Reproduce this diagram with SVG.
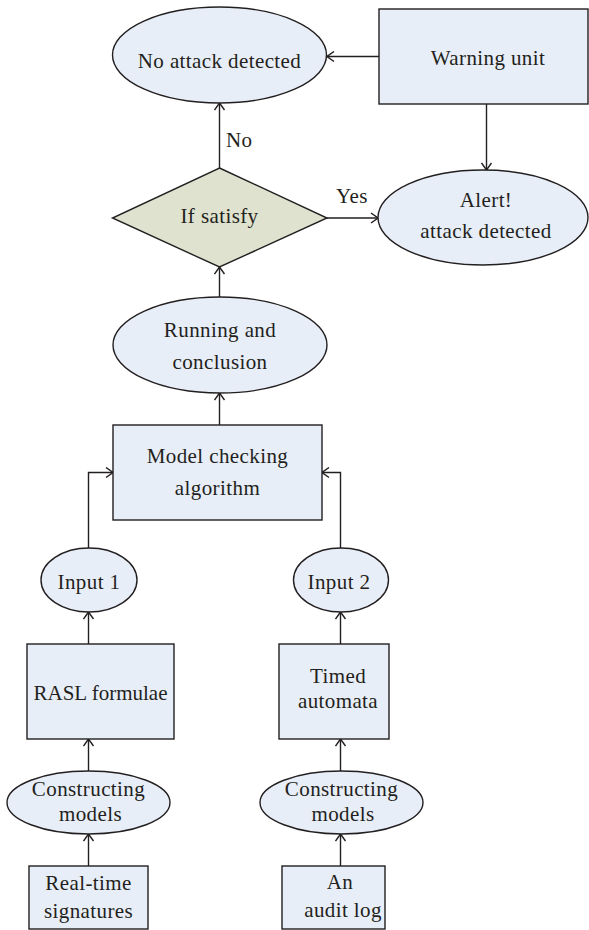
<svg xmlns="http://www.w3.org/2000/svg" width="589" height="930" viewBox="0 0 589 930">
<style>
.n{fill:#e8eef7;stroke:#231f20;stroke-width:1.4}
.d{fill:#dfe2cf;stroke:#231f20;stroke-width:1.4}
.c{fill:none;stroke:#231f20;stroke-width:1.4;marker-end:url(#a)}
text{font-family:"Liberation Serif","Times New Roman",serif;font-size:21px;letter-spacing:0.4px;fill:#231f20;text-anchor:middle}
.l{text-anchor:start}
</style>
<defs>
<marker id="a" viewBox="0 0 12 12" refX="11" refY="6" markerWidth="12" markerHeight="12" markerUnits="userSpaceOnUse" orient="auto">
<path d="M4,1 L11,6 L4,11" fill="none" stroke="#231f20" stroke-width="1.4"/>
</marker>
</defs>
<rect width="589" height="930" fill="#fff"/>
<g id="connectors">
<path class="c" d="M379,56.5 H327"/>
<path class="c" d="M486.5,104 V170"/>
<path class="c" d="M219.5,168 V103"/>
<path class="c" d="M327,218 H378"/>
<path class="c" d="M219.5,297 V267"/>
<path class="c" d="M219.5,425 V393"/>
<path class="c" d="M88.5,548 V472.5 H113"/>
<path class="c" d="M340.5,548 V472.5 H322"/>
<path class="c" d="M88.5,644 V612"/>
<path class="c" d="M340.5,644 V612"/>
<path class="c" d="M88.5,771 V739"/>
<path class="c" d="M340.5,771 V739"/>
<path class="c" d="M88.5,866 V834"/>
<path class="c" d="M340.5,866 V834"/>
<text class="l" x="226" y="147">No</text>
<text class="l" x="336" y="203">Yes</text>
</g>
<g id="no-attack"><ellipse class="n" cx="219.5" cy="55" rx="107" ry="48"/><text x="219.5" y="68">No attack detected</text></g>
<g id="warning"><rect class="n" x="379" y="9" width="209" height="95"/><text x="488" y="65">Warning unit</text></g>
<g id="if-satisfy"><polygon class="d" points="219.5,168 327,218 219.5,267 112.5,218"/><text x="219.5" y="223">If satisfy</text></g>
<g id="alert"><ellipse class="n" cx="483" cy="217.5" rx="105" ry="47.5"/><text x="486" y="207">Alert!</text><text x="486" y="238">attack detected</text></g>
<g id="running"><ellipse class="n" cx="220" cy="345" rx="107" ry="48"/><text x="220" y="337">Running and</text><text x="220" y="369">conclusion</text></g>
<g id="model-checking"><rect class="n" x="113" y="425" width="209" height="95"/><text x="217.5" y="463">Model checking</text><text x="217.5" y="495">algorithm</text></g>
<g id="input1"><ellipse class="n" cx="89" cy="580" rx="48" ry="32"/><text x="89" y="589">Input 1</text></g>
<g id="input2"><ellipse class="n" cx="341" cy="580" rx="47.5" ry="32"/><text x="339" y="589">Input 2</text></g>
<g id="rasl"><rect class="n" x="27" y="644" width="147" height="95"/><text x="100.5" y="700" style="letter-spacing:0">RASL formulae</text></g>
<g id="timed"><rect class="n" x="279" y="644" width="110" height="95"/><text x="338" y="683">Timed</text><text x="338" y="708">automata</text></g>
<g id="construct1"><ellipse class="n" cx="88.5" cy="802.5" rx="81.5" ry="31.5"/><text x="88.5" y="796">Constructing</text><text x="90.5" y="821">models</text></g>
<g id="construct2"><ellipse class="n" cx="341.5" cy="802.5" rx="81.5" ry="31.5"/><text x="341.5" y="796">Constructing</text><text x="343" y="821">models</text></g>
<g id="realtime"><rect class="n" x="29" y="866" width="119" height="63"/><text x="88.5" y="890">Real-time</text><text x="88.5" y="918">signatures</text></g>
<g id="audit"><rect class="n" x="282" y="866" width="103" height="63"/><text x="340" y="889">An</text><text x="343" y="917">audit log</text></g>
</svg>
